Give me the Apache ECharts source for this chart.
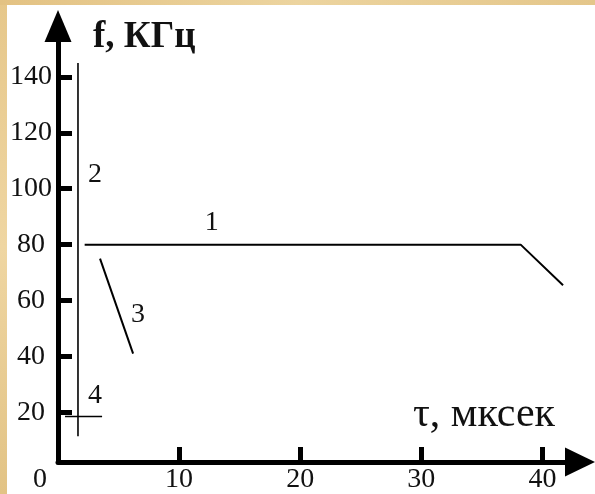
<!DOCTYPE html>
<html>
<head>
<meta charset="utf-8">
<script src="https://cdn.jsdelivr.net/npm/echarts@6/dist/echarts.min.js"></script>
<style>
html,body{margin:0;padding:0;}
#chart{width:595px;height:494px;
background:
 linear-gradient(90deg,#e3c283,#ecd49f,#e4c68a) top left/100% 5px no-repeat,
 linear-gradient(180deg,#e6c78a,#efd6a2,#e2c385) top left/7px 100% no-repeat,
 #ffffff;}
</style>
</head>
<body>
<div id="chart"></div>
<script>
// Tick labels
var xTicks = [0, 10, 20, 30, 40];
var yTicks = [20, 40, 60, 80, 100, 120, 140];

// Curve 1
var line1X = [2.2, 38.2, 41.7];
var line1Y = [80, 80, 65.5];
// Curve 2 (vertical)
var line2X = [1.65, 1.65];
var line2Y = [145, 11.5];
// Curve 3
var line3X = [3.47, 6.2];
var line3Y = [75, 41];
// Curve 4 (horizontal)
var line4X = [0.58, 3.64];
var line4Y = [18.5, 18.5];

// Curve number labels
var curveNames = ['1', '2', '3', '4'];
var curveLabelX = [12.7, 3.06, 6.6, 3.06];
var curveLabelY = [88, 105, 55, 26];

function pairs(xs, ys) {
  return xs.map(function (x, i) { return [x, ys[i]]; });
}

var FONT = '"Liberation Serif", "Times New Roman", serif';

var chart = echarts.init(document.getElementById('chart'), null, {renderer: 'canvas'});

function lineSeries(xs, ys, w) {
  return {
    type: 'line',
    data: pairs(xs, ys),
    symbol: 'none',
    silent: true,
    lineStyle: {color: '#000', width: w},
    z: 3
  };
}

var option = {
  backgroundColor: 'transparent',
  animation: false,
  grid: {left: 58, right: 15, top: 26, bottom: 32, containLabel: false},
  xAxis: {
    type: 'value',
    min: 0,
    max: 43.1,
    splitLine: {show: false},
    axisLine: {
      show: true,
      lineStyle: {color: '#000', width: 5},
      symbol: ['none', 'triangle'],
      symbolSize: [29, 30]
    },
    axisTick: {
      show: true, inside: true, length: 15,
      lineStyle: {color: '#000', width: 5},
      customValues: xTicks.slice(1)
    },
    axisLabel: {
      show: true,
      customValues: xTicks,
      margin: 4,
      color: '#111',
      fontFamily: FONT,
      fontSize: 28,
      formatter: function (v) {
        return v === 0 ? '{o|0}' : String(v);
      },
      rich: {
        o: {fontFamily: FONT, fontSize: 28, color: '#111', padding: [0, 36, 0, 0]}
      }
    },
    name: 'τ, мксек',
    nameLocation: 'end',
    nameGap: -25,
    nameTextStyle: {
      fontFamily: FONT, fontSize: 42, color: '#111',
      align: 'right', verticalAlign: 'bottom', lineHeight: 42,
      padding: [0, 0, 26, 0]
    }
  },
  yAxis: {
    type: 'value',
    min: 2.25,
    max: 158.2,
    splitLine: {show: false},
    axisLine: {
      show: true,
      lineStyle: {color: '#000', width: 5},
      symbol: ['none', 'triangle'],
      symbolSize: [27, 32]
    },
    axisTick: {
      show: true, inside: true, length: 14,
      lineStyle: {color: '#000', width: 5},
      customValues: yTicks
    },
    axisLabel: {
      show: true,
      customValues: yTicks,
      margin: 27,
      align: 'center',
      color: '#111',
      fontFamily: FONT,
      fontSize: 28
    },
    name: 'f, КГц',
    nameLocation: 'end',
    nameGap: -11,
    nameTextStyle: {
      fontFamily: FONT, fontSize: 37, fontWeight: 'bold', color: '#111',
      align: 'left', verticalAlign: 'middle',
      padding: [0, 0, 0, 35]
    }
  },
  series: [
    lineSeries(line1X, line1Y, 2),
    lineSeries(line2X, line2Y, 1.6),
    lineSeries(line3X, line3Y, 2),
    lineSeries(line4X, line4Y, 1.6),
    {
      type: 'scatter',
      symbolSize: 0,
      silent: true,
      itemStyle: {opacity: 1, color: '#000'},
      data: curveNames.map(function (n, i) {
        return {name: n, value: [curveLabelX[i], curveLabelY[i]]};
      }),
      label: {
        show: true,
        position: 'inside',
        formatter: function (p) { return p.name; },
        fontFamily: FONT,
        fontSize: 28,
        color: '#111'
      },
      z: 4
    }
  ]
};

chart.setOption(option);
</script>
</body>
</html>
